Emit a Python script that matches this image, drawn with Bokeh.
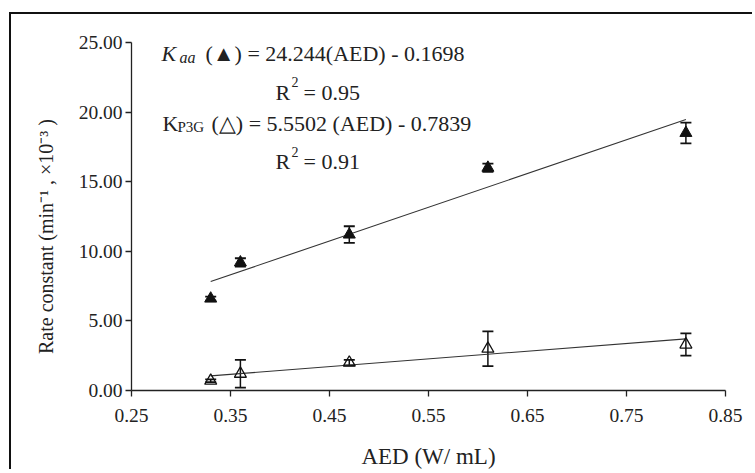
from bokeh.plotting import figure
from bokeh.models import (ColumnDataSource, Whisker, TeeHead, FixedTicker,
                          NumeralTickFormatter, Label, Range1d)
from bokeh.embed import file_html
from bokeh.resources import INLINE

# ---- data ----
aed = [0.33, 0.36, 0.47, 0.61, 0.81]
kaa = [6.6, 9.2, 11.2, 16.0, 18.5]
kaa_err = [0.15, 0.3, 0.6, 0.3, 0.75]
kp3g = [0.7, 1.2, 2.0, 3.0, 3.3]
kp3g_err = [0.1, 1.0, 0.2, 1.25, 0.8]
kaa_slope, kaa_icpt = 24.244, -0.1698
p3g_slope, p3g_icpt = 5.5502, -0.7839
fit_x = [0.33, 0.81]
x_ticks = [0.25, 0.35, 0.45, 0.55, 0.65, 0.75, 0.85]
y_ticks = [0, 5, 10, 15, 20, 25]

FONT = "Liberation Serif"
W, H = 743, 457
ox, oy = 14, 14  # canvas origin on page

p = figure(width=W, height=H, output_backend="svg", toolbar_location=None,
           x_range=Range1d(0.25, 0.85), y_range=Range1d(0, 25),
           min_border_left=134 - ox, min_border_right=W - (728 - ox),
           min_border_top=42 - oy, min_border_bottom=H - (392 - oy))
p.margin = (12, 0, 0, 9)
p.styles = {"border-left": "2px solid #111", "border-top": "2px solid #111"}
p.outline_line_color = None
p.grid.grid_line_color = None
p.background_fill_color = "white"
p.border_fill_color = "white"

for ax in (p.xaxis[0], p.yaxis[0]):
    ax.axis_line_color = "#222"
    ax.axis_line_width = 1.3
    ax.major_tick_line_color = "#222"
    ax.major_tick_line_width = 1.3
    ax.major_tick_in = 0
    ax.major_tick_out = 6
    ax.minor_tick_line_color = None
    ax.major_label_text_font = FONT
    ax.major_label_text_font_size = "19.5px"
    ax.major_label_text_color = "#222"
    ax.axis_label_text_font = FONT
    ax.axis_label_text_font_style = "normal"
    ax.axis_label_text_color = "#222"

p.xaxis.ticker = FixedTicker(ticks=x_ticks)
p.yaxis.ticker = FixedTicker(ticks=y_ticks)
p.xaxis.formatter = NumeralTickFormatter(format="0.00")
p.yaxis.formatter = NumeralTickFormatter(format="0.00")
p.xaxis.major_label_standoff = 12
p.yaxis.major_label_standoff = 3
p.xaxis.axis_label = "AED (W/ mL)"
p.xaxis.axis_label_text_font_size = "23px"
p.xaxis.axis_label_standoff = 19
# trailing no-break spaces nudge the rotated title down to its place
p.yaxis.axis_label = "Rate constant (min\u207b\u00b9 , \u00d710\u207b\u00b3 )" + "\u00a0" * 8
p.yaxis.axis_label_text_font_size = "20px"
p.yaxis.axis_label_standoff = 19

# fit lines
p.line(fit_x, [kaa_slope * x + kaa_icpt for x in fit_x], line_color="#333", line_width=1.1)
p.line(fit_x, [p3g_slope * x + p3g_icpt for x in fit_x], line_color="#333", line_width=1.1)

src = ColumnDataSource(dict(
    x=aed, kaa=kaa, p3g=kp3g,
    kaa_lo=[v - e for v, e in zip(kaa, kaa_err)], kaa_hi=[v + e for v, e in zip(kaa, kaa_err)],
    p3g_lo=[v - e for v, e in zip(kp3g, kp3g_err)], p3g_hi=[v + e for v, e in zip(kp3g, kp3g_err)],
))
for lo, hi in (("kaa_lo", "kaa_hi"), ("p3g_lo", "p3g_hi")):
    wk = Whisker(source=src, base="x", lower=lo, upper=hi, line_color="#111", line_width=1.5,
                 upper_head=TeeHead(size=11, line_color="#111", line_width=1.8),
                 lower_head=TeeHead(size=11, line_color="#111", line_width=1.8))
    p.add_layout(wk)

p.scatter("x", "kaa", source=src, marker="triangle", size=12, fill_color="#111",
          line_color="#111")
p.scatter("x", "p3g", source=src, marker="triangle", size=12, fill_alpha=0,
          line_color="#111", line_width=1.3)

# annotations (page px -> data)
def dx(px):
    return 0.25 + (px - 134) / 990.0

def dy(py):
    return (392 - py) / 14.0

def lab(txt, px, py_base, size="22px", style="normal"):
    p.add_layout(Label(x=dx(px), y=dy(py_base), text=txt, text_font=FONT,
                       text_font_size=size, text_font_style=style, text_color="#222",
                       text_baseline="alphabetic"))

lab("K", 164, 53, style="italic")
lab("aa", 182, 57, size="16px", style="italic")
lab("(\u25b2) = 24.244(AED) - 0.1698", 208, 53)
lab("R", 278, 92)
lab("2", 294, 82, size="14px")
lab("= 0.95", 306, 92)
lab("K", 165, 123)
lab("P3G", 180, 127, size="15px")
lab("(\u25b3) = 5.5502 (AED) - 0.7839", 214, 123)
lab("R", 278, 162)
lab("2", 294, 152, size="14px")
lab("= 0.91", 306, 162)

open("out.html", "w").write(file_html(p, INLINE))
